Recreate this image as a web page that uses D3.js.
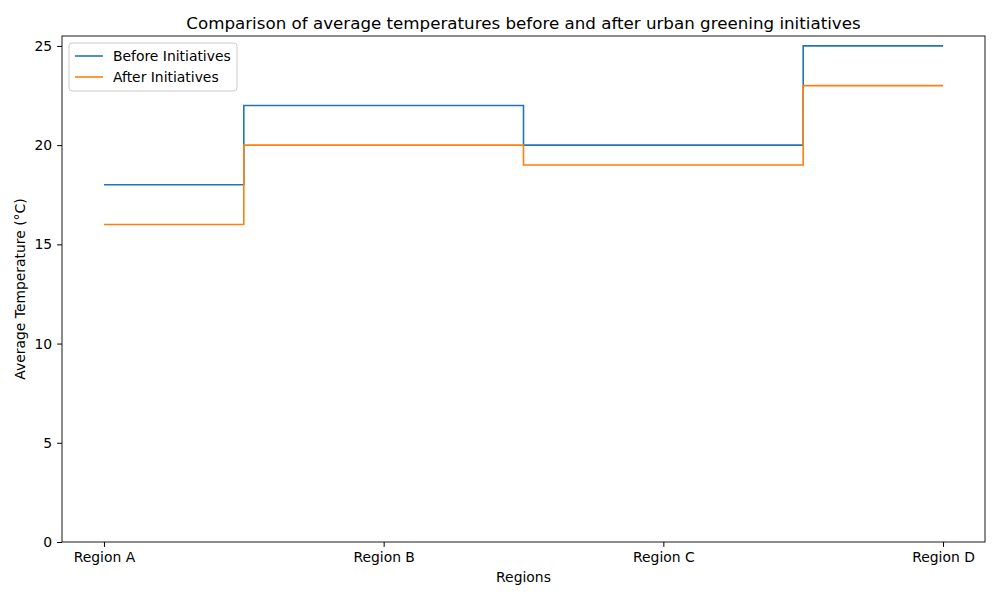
<!DOCTYPE html>
<html><head><meta charset="utf-8">
<script src="https://cdn.jsdelivr.net/npm/d3@7"></script>
<style>body{margin:0;background:#fff;font-family:"DejaVu Sans",sans-serif;}</style>
</head><body><svg id="c" width="1000" height="600"></svg>
<script>
const categories = ["Region A","Region B","Region C","Region D"];
const before = [18,22,20,25];
const after = [16,20,19,23];
const yTicks = [0,5,10,15,20,25];
const seriesNames = ["Before Initiatives","After Initiatives"];
const colors = ["#1f77b4","#ff7f0e"];

const svg = d3.select("#c");
const m = {l:62, r:985, t:36, b:542};
const x = d3.scaleLinear().domain([-0.15,3.15]).range([m.l,m.r]);
const y = d3.scaleLinear().domain([0,25.5]).range([m.b,m.t]);
const fs = 13.9;

const xa = svg.append("g").attr("transform",`translate(0,${m.b})`)
  .call(d3.axisBottom(x).tickValues([0,1,2,3]).tickFormat(i=>categories[i]).tickSizeOuter(0).tickSize(4.9).tickPadding(4.9));
const ya = svg.append("g").attr("transform",`translate(${m.l},0)`)
  .call(d3.axisLeft(y).tickValues(yTicks).tickSizeOuter(0).tickSize(4.9).tickPadding(4.9));
[xa,ya].forEach(a=>{a.selectAll("text").attr("font-size",fs).attr("fill","#000").attr("font-family","DejaVu Sans");a.selectAll("line").attr("stroke","#000");a.select(".domain").remove();});
svg.append("rect").attr("x",m.l).attr("y",m.t).attr("width",m.r-m.l).attr("height",m.b-m.t).attr("fill","none").attr("stroke","#000").attr("stroke-width",0.9);

const line = d3.line().x((d,i)=>x(i)).y(d=>y(d)).curve(d3.curveStep);
[before,after].forEach((s,k)=>{
  svg.append("path").datum(s).attr("d",line).attr("fill","none").attr("stroke",colors[k]).attr("stroke-width",1.6);
});

svg.append("text").attr("x",(m.l+m.r)/2).attr("y",29).attr("text-anchor","middle").attr("font-size",16.7).text("Comparison of average temperatures before and after urban greening initiatives");
svg.append("text").attr("x",(m.l+m.r)/2).attr("y",582).attr("text-anchor","middle").attr("font-size",fs).text("Regions");
svg.append("text").attr("transform",`translate(25,${(m.t+m.b)/2}) rotate(-90)`).attr("text-anchor","middle").attr("font-size",fs).text("Average Temperature (°C)");

const lg = svg.append("g").attr("transform","translate(69,43)");
lg.append("rect").attr("width",168).attr("height",48).attr("rx",3).attr("fill","#fff").attr("stroke","#ccc");
seriesNames.forEach((n,i)=>{
  const yy = 13+i*21;
  lg.append("line").attr("x1",6).attr("x2",34).attr("y1",yy).attr("y2",yy).attr("stroke",colors[i]).attr("stroke-width",1.6);
  lg.append("text").attr("x",44).attr("y",yy+5).attr("font-size",fs).text(n);
});
</script></body></html>
